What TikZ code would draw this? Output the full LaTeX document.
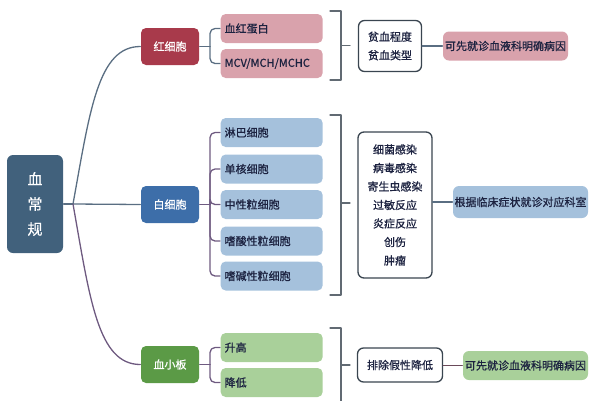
\documentclass[tikz,border=0pt]{standalone}
\usepackage{fontspec}
\setmainfont{Noto Sans CJK SC}[FakeBold=0.8,AutoFakeBold=0.8]
\definecolor{rootblue}{HTML}{41617C}
\definecolor{catred}{HTML}{A83A4B}
\definecolor{catblue}{HTML}{3D6EA9}
\definecolor{catgreen}{HTML}{5B9A46}
\definecolor{subred}{HTML}{D9A2AC}
\definecolor{subblue}{HTML}{A5C1DC}
\definecolor{subgreen}{HTML}{A9D09A}
\definecolor{textnavy}{HTML}{1C2240}
\definecolor{boxgrey}{HTML}{3A4550}
\definecolor{lineblue}{HTML}{5A6E82}
\definecolor{linepurple}{HTML}{6E5A80}
\definecolor{linemaroon}{HTML}{6A4A5A}
\begin{document}
\begin{tikzpicture}[x=1pt, y=-1pt, line width=1.3pt, line cap=round, line join=round,
  catbox/.style={fill=#1, text=white, rounded corners=5pt, minimum width=58pt,
    minimum height=37pt, inner sep=0pt, font=\fontsize{11}{13}\selectfont\bfseries},
  subbox/.style={fill=#1, text=textnavy, rounded corners=5pt, anchor=west,
    text width=94pt, inner xsep=4pt, inner ysep=0pt, minimum height=29pt,
    align=left, font=\fontsize{11}{13}\selectfont\bfseries},
  notebox/.style={draw=boxgrey, fill=white, text=textnavy, rounded corners=6pt,
    inner sep=0pt, align=center, font=\fontsize{11}{18.5}\selectfont},
  resbox/.style={fill=#1, text=textnavy, rounded corners=6pt, inner sep=0pt,
    font=\fontsize{11}{13}\selectfont\bfseries},
  bracket/.style={draw=boxgrey!80}]
  \useasboundingbox (0,0) rectangle (600,400);
  \clip (0,0) rectangle (600,400);
  % root and the three groups
  \node[fill=rootblue, text=white, rounded corners=6pt, minimum width=56pt,
    minimum height=98pt, inner sep=0pt, align=center,
    font=\fontsize{15}{25}\selectfont\bfseries] (root) at (35,204) {血\\常\\规};
  \node[catbox=catred] (rbc) at (170,46.5) {红细胞};
  \node[catbox=catblue] (wbc) at (170,204.5) {白细胞};
  \node[catbox=catgreen] (plt) at (170,364.5) {血小板};
  \coordinate (rootfork) at (73,204);
  \draw[lineblue] (root.east) -- (rootfork);
  \draw[lineblue] (rootfork) .. controls (90,110) and (98,46.5) .. (rbc.west);
  \draw[lineblue] (rootfork) -- (wbc.west);
  \draw[linepurple] (rootfork) .. controls (90,300) and (98,364.5) .. (plt.west);
  % sub items
  \node[subbox=subred] (rbc1) at (220,28.5) {血红蛋白};
  \node[subbox=subred] (rbc2) at (220,63.5) {MCV/MCH/MCHC};
  \foreach \name/\y/\txt in {wbc1/132.5/淋巴细胞, wbc2/169/单核细胞, wbc3/204.5/中性粒细胞,
      wbc4/241/嗜酸性粒细胞, wbc5/276/嗜碱性粒细胞} {
    \node[subbox=subblue] (\name) at (220,\y) {\txt};
  }
  \node[subbox=subgreen] (plt1) at (220,347.5) {升高};
  \node[subbox=subgreen] (plt2) at (220,382.5) {降低};
  \coordinate (rbcfork) at (210,46.5);
  \coordinate (wbcfork) at (210,204.5);
  \coordinate (pltfork) at (210,364.5);
  \draw[lineblue] (rbc.east) -- (rbcfork);
  \foreach \s in {rbc1,rbc2} { \draw[lineblue, rounded corners=5pt] (rbcfork) |- (\s.west); }
  \draw[linepurple] (wbc.east) -- (wbcfork);
  \foreach \s in {wbc1,wbc2,wbc3,wbc4,wbc5} { \draw[linepurple, rounded corners=5pt] (wbcfork) |- (\s.west); }
  \draw[linepurple] (plt.east) -- (pltfork);
  \foreach \s in {plt1,plt2} { \draw[linepurple, rounded corners=5pt] (pltfork) |- (\s.west); }
  % brackets, notes and advice
  \draw[bracket] (330,11) -- (341,11) -- (341,80) -- (330,80);
  \draw[bracket] (330,115) -- (341,115) -- (341,295) -- (330,295);
  \draw[bracket] (330,328) -- (341,328) -- (341,404) -- (330,404);
  \coordinate (rbctick) at (341,45.5);
  \coordinate (wbctick) at (341,203);
  \coordinate (plttick) at (341,365);
  \node[notebox, minimum width=63pt, minimum height=51pt] (rbcnote) at (390,46) {贫血程度\\贫血类型};
  \node[notebox, minimum width=74pt, minimum height=146pt] (wbcnote) at (395,205)
    {细菌感染\\病毒感染\\寄生虫感染\\过敏反应\\炎症反应\\创伤\\肿瘤};
  \node[notebox, minimum width=85pt, minimum height=34pt] (pltnote) at (400,365) {排除假性降低};
  \draw[bracket] (rbctick) -- ++(9,0);
  \draw[bracket] (wbctick) -- ++(9,0);
  \draw[bracket] (plttick) -- ++(9,0);
  \node[resbox=subred, minimum width=125pt, minimum height=29pt] (rbcres) at (505.5,46) {可先就诊血液科明确病因};
  \node[resbox=subblue, minimum width=135pt, minimum height=32pt] (wbcres) at (520.5,202) {根据临床症状就诊对应科室};
  \node[resbox=subgreen, minimum width=125pt, minimum height=29pt] (pltres) at (525.5,365.5) {可先就诊血液科明确病因};
  \draw[lineblue] (rbcnote.east |- rbcres) -- (rbcres.west);
  \draw[lineblue] (wbcnote.east |- wbcres) -- (wbcres.west);
  \draw[linemaroon] (pltnote.east |- pltres) -- (pltres.west);
\end{tikzpicture}
\end{document}
